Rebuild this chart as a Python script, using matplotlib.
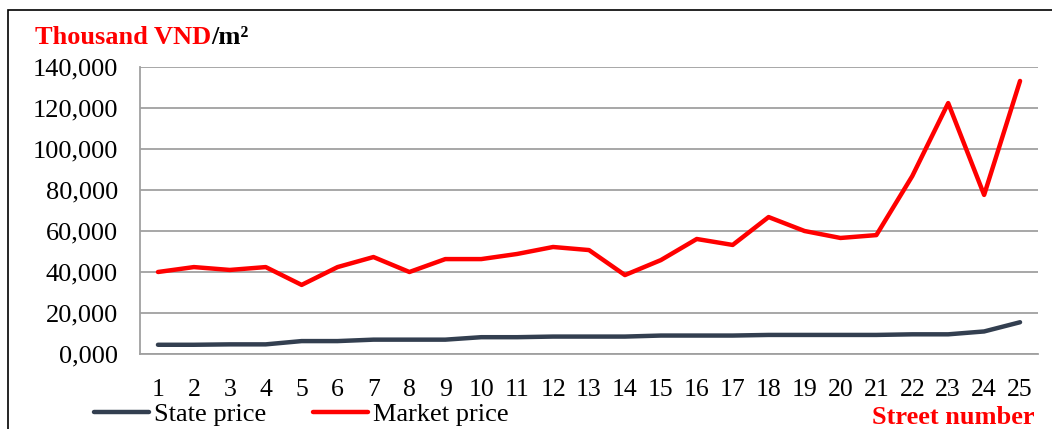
import matplotlib.pyplot as plt
from matplotlib.patches import Rectangle
from matplotlib.ticker import FuncFormatter

streets = list(range(1, 26))
state_price = [4500, 4500, 4700, 4700, 6300, 6300, 7000, 7000, 7000, 8200, 8200, 8500, 8500,
               8500, 9000, 9000, 9000, 9300, 9300, 9300, 9300, 9600, 9600, 11000, 15500]
market_price = [40000, 42400, 41000, 42400, 33700, 42400, 47300, 40000, 46300, 46300, 48800,
                52200, 50700, 38500, 45800, 56100, 53200, 66800, 60000, 56600, 58000, 86800,
                122400, 77600, 133200]
y_ticks = [0, 20000, 40000, 60000, 80000, 100000, 120000, 140000]

plt.rcParams['font.family'] = ['Liberation Serif', 'DejaVu Serif']

W, H = 1052, 429
fig = plt.figure(figsize=(W / 100, H / 100), dpi=100)
ax = fig.add_axes([140 / W, 1 - 354 / H, (1038 - 140) / W, (354 - 67) / H])

ax.plot(streets, state_price, color='#333f50', lw=3.2, label='State price', solid_capstyle='round')
ax.plot(streets, market_price, color='#ff0000', lw=3.2, label='Market price', solid_capstyle='round')

ax.set_xlim(0.5, 25.5)
ax.set_ylim(0, 140000)
ax.set_xticks(streets)
ax.set_yticks(y_ticks)
ax.yaxis.set_major_formatter(FuncFormatter(lambda v, p: f"{v / 1000:.3f}".replace('.', ',')))
ax.tick_params(axis='y', length=0, labelsize=19, pad=16)
ax.tick_params(axis='x', length=0, labelsize=18.5, pad=18)
ax.grid(axis='y', color='#a0a0a0', lw=1.3)
ax.set_axisbelow(True)
for s in ['top', 'right']:
    ax.spines[s].set_visible(False)
for s in ['left', 'bottom']:
    ax.spines[s].set_color('#a0a0a0')
    ax.spines[s].set_linewidth(1.3)

# frame around the chart
fig.add_artist(Rectangle((8 / W, -0.1), 1.2, 1 - 10 / H + 0.1, transform=fig.transFigure,
                         fill=False, edgecolor='black', lw=1.2))

t1 = fig.text(35 / W, 1 - 37 / H, 'Thousand VND', color='#ff0000', fontsize=19,
              fontweight='bold', va='center')
fig.canvas.draw()
bb = t1.get_window_extent()
fig.text(bb.x1 / W, 1 - 37 / H, '/m²', color='black', fontsize=19, fontweight='bold', va='center')

fig.text(1035 / W, 1 - 406 / H, 'Street number', color='#ff0000', fontsize=19,
         fontweight='bold', ha='right', va='top')

fig.legend(loc='center left', bbox_to_anchor=(83 / W, 1 - 414 / H), ncol=2, frameon=False,
           fontsize=19, handlelength=2.1, handletextpad=0.2, columnspacing=1.75, borderaxespad=0)

fig.savefig('out.png', dpi=100)
